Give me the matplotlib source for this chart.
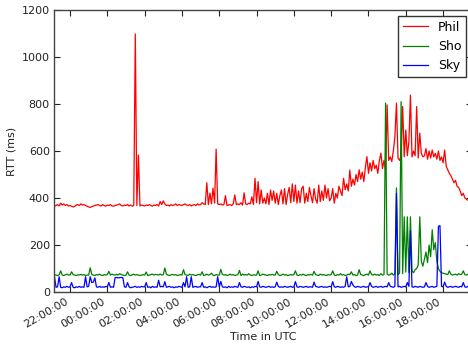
import matplotlib
matplotlib.use("Agg")
import matplotlib.pyplot as plt
import matplotlib.dates as mdates
import pandas as pd

# ---- data: 5-minute samples, 21:10 (day 1) .. 19:25 (day 2) ----
START = "2015-01-01 21:10"

phil_21 = [365, 368, 372, 366, 378, 370, 375, 368, 372, 366]
phil_22 = [368, 365, 362, 364, 370, 372, 368, 375, 370, 372, 368, 365]
phil_23 = [362, 360, 363, 366, 368, 370, 372, 368, 366, 372, 368, 365]
phil_00 = [370, 368, 372, 366, 365, 368, 370, 372, 375, 368, 366, 370]
phil_01 = [368, 372, 366, 370, 365, 368, 1098, 368, 583, 366, 370, 368]
phil_02 = [366, 370, 368, 372, 368, 365, 370, 368, 372, 366, 385, 372]
phil_03 = [388, 375, 368, 370, 366, 372, 368, 370, 375, 368, 372, 370]
phil_04 = [368, 372, 375, 370, 368, 372, 366, 370, 372, 368, 375, 370]
phil_05 = [372, 380, 375, 372, 465, 372, 421, 375, 442, 378, 608, 375]
phil_06 = [372, 375, 370, 372, 410, 368, 370, 372, 368, 375, 413, 372]
phil_07 = [375, 372, 380, 370, 422, 375, 372, 378, 375, 405, 372, 484]
phil_08 = [380, 470, 375, 434, 378, 400, 375, 420, 372, 434, 390, 430]
phil_09 = [378, 420, 372, 410, 434, 375, 440, 372, 415, 445, 380, 460]
phil_10 = [385, 455, 378, 430, 380, 440, 450, 378, 420, 385, 445, 410]
phil_11 = [380, 440, 395, 378, 455, 385, 430, 390, 455, 400, 440, 388]
phil_12 = [400, 440, 378, 420, 400, 450, 430, 410, 484, 435, 460, 430]
phil_13 = [519, 450, 480, 455, 500, 470, 520, 480, 510, 470, 530, 576]
phil_14 = [505, 550, 515, 560, 525, 540, 505, 560, 591, 525, 560, 520]
phil_15 = [796, 560, 575, 555, 600, 661, 804, 570, 560, 580, 789, 575]
phil_16 = [689, 580, 640, 838, 575, 600, 580, 789, 570, 676, 590, 575]
phil_17 = [580, 610, 565, 600, 570, 604, 575, 590, 565, 600, 560, 575]
phil_18 = [550, 604, 535, 520, 505, 495, 480, 465, 475, 450, 445, 430]
phil_19 = [410, 420, 400, 395, 390, 392]

sho_21 = [74, 72, 70, 73, 90, 72, 70, 73, 76, 72]
sho_22 = [72, 86, 74, 72, 70, 73, 72, 75, 72, 74, 70, 72]
sho_23 = [72, 103, 75, 72, 70, 74, 72, 76, 72, 70, 74, 72]
sho_00 = [74, 88, 72, 76, 73, 72, 75, 72, 78, 74, 72, 70]
sho_01 = [72, 86, 72, 70, 73, 76, 72, 74, 72, 70, 72, 74]
sho_02 = [72, 85, 70, 72, 74, 76, 72, 75, 74, 72, 76, 72]
sho_03 = [74, 102, 76, 72, 70, 73, 75, 72, 74, 70, 72, 74]
sho_04 = [72, 95, 74, 72, 70, 76, 72, 74, 72, 70, 73, 75]
sho_05 = [72, 86, 70, 72, 76, 72, 74, 80, 72, 70, 74, 72]
sho_06 = [72, 96, 75, 72, 74, 70, 72, 76, 72, 74, 70, 72]
sho_07 = [74, 92, 70, 76, 72, 74, 72, 78, 72, 70, 73, 72]
sho_08 = [72, 90, 70, 72, 76, 74, 72, 70, 74, 72, 75, 72]
sho_09 = [72, 88, 74, 70, 72, 76, 72, 74, 70, 72, 74, 72]
sho_10 = [74, 90, 72, 70, 74, 72, 76, 72, 70, 74, 72, 75]
sho_11 = [72, 88, 74, 72, 70, 76, 72, 74, 72, 70, 74, 72]
sho_12 = [74, 90, 72, 70, 74, 72, 78, 72, 74, 70, 72, 76]
sho_13 = [74, 86, 72, 74, 70, 72, 95, 74, 72, 70, 74, 76]
sho_14 = [72, 90, 74, 72, 76, 72, 74, 70, 78, 72, 74, 804]
sho_15 = [76, 72, 74, 80, 72, 78, 443, 74, 80, 810, 78, 320]
sho_16 = [85, 320, 82, 320, 90, 82, 95, 100, 115, 320, 130, 110]
sho_17 = [140, 170, 125, 200, 150, 265, 180, 210, 130, 100, 88, 82]
sho_18 = [80, 78, 76, 74, 90, 76, 72, 74, 76, 72, 78, 74]
sho_19 = [76, 90, 74, 72, 76, 74]

sky_21 = [65, 20, 22, 65, 20, 18, 22, 20, 24, 20]
sky_22 = [22, 40, 20, 18, 22, 20, 24, 20, 22, 20, 65, 22]
sky_23 = [24, 65, 40, 42, 60, 22, 20, 24, 20, 22, 20, 24]
sky_00 = [22, 40, 20, 22, 20, 61, 62, 60, 61, 62, 61, 22]
sky_01 = [20, 40, 22, 18, 20, 22, 24, 20, 22, 20, 24, 22]
sky_02 = [22, 40, 20, 22, 18, 24, 20, 22, 20, 50, 22, 24]
sky_03 = [22, 44, 20, 22, 24, 20, 22, 18, 22, 20, 24, 22]
sky_04 = [20, 40, 22, 65, 20, 22, 65, 20, 22, 24, 20, 22]
sky_05 = [22, 40, 20, 22, 18, 22, 24, 20, 22, 20, 22, 65]
sky_06 = [22, 45, 22, 20, 22, 18, 24, 20, 22, 20, 24, 22]
sky_07 = [20, 40, 22, 20, 24, 22, 20, 22, 18, 22, 20, 24]
sky_08 = [22, 45, 22, 20, 24, 22, 20, 22, 24, 20, 22, 20]
sky_09 = [22, 42, 24, 20, 22, 20, 24, 22, 20, 22, 24, 20]
sky_10 = [22, 44, 22, 20, 24, 22, 20, 22, 24, 20, 22, 22]
sky_11 = [20, 42, 24, 22, 20, 22, 24, 20, 22, 20, 22, 24]
sky_12 = [22, 44, 22, 20, 24, 22, 20, 22, 20, 24, 65, 22]
sky_13 = [24, 45, 30, 22, 20, 24, 22, 20, 22, 24, 20, 22]
sky_14 = [22, 40, 24, 20, 22, 24, 20, 22, 24, 20, 22, 24]
sky_15 = [22, 40, 24, 22, 20, 24, 420, 22, 24, 20, 22, 24]
sky_16 = [22, 40, 24, 260, 22, 20, 24, 22, 20, 24, 22, 20]
sky_17 = [22, 40, 24, 20, 22, 24, 20, 22, 24, 280, 282, 24]
sky_18 = [22, 42, 24, 20, 22, 24, 20, 22, 24, 22, 20, 24]
sky_19 = [22, 40, 22, 20, 24, 22]

hours = ["21", "22", "23", "00", "01", "02", "03", "04", "05", "06", "07",
         "08", "09", "10", "11", "12", "13", "14", "15", "16", "17", "18", "19"]
series_names = ["Phil", "Sho", "Sky"]
series_colors = ["red", "green", "blue"]

g = globals()
def collect(prefix):
    out = []
    for h in hours:
        out.extend(g[f"{prefix}_{h}"])
    return out

phil = collect("phil")
sho = collect("sho")
sky = collect("sky")

times = pd.date_range(START, periods=len(phil), freq="5min")

# ---- figure ----
fig = plt.figure(figsize=(4.68, 3.49), dpi=100)
ax = fig.add_axes([54 / 468, 57 / 349, (472 - 54) / 468, (292 - 10) / 349])

for name, vals, col in zip(series_names, [phil, sho, sky], series_colors):
    ax.plot(times, vals, color=col, lw=0.9, label=name)

ax.set_xlim(pd.Timestamp("2015-01-01 21:08:30"), pd.Timestamp("2015-01-02 19:33"))
ax.set_ylim(0, 1200)
ax.set_yticks(range(0, 1201, 200))
ax.xaxis.set_major_locator(mdates.HourLocator(byhour=range(0, 24, 2)))
ax.xaxis.set_major_formatter(mdates.DateFormatter("%H:%M:%S"))
ax.tick_params(direction="in", top=True, right=True, length=4, width=0.8,
               labelsize=8, colors="#222222", pad=3)
for lab in ax.get_xticklabels():
    lab.set_rotation(30)
    lab.set_ha("right")
for s in ax.spines.values():
    s.set_color("#444444")
    s.set_linewidth(1.0)

ax.set_xlabel("Time in UTC", fontsize=8, color="#222222", labelpad=2)
ax.set_ylabel("RTT (ms)", fontsize=8, color="#222222")

leg = ax.legend(loc="upper right", fontsize=9, fancybox=False, framealpha=1,
                edgecolor="#333333", handlelength=2.0, borderaxespad=0.45)
leg.get_frame().set_linewidth(1.0)

fig.savefig("out.png", dpi=100)
